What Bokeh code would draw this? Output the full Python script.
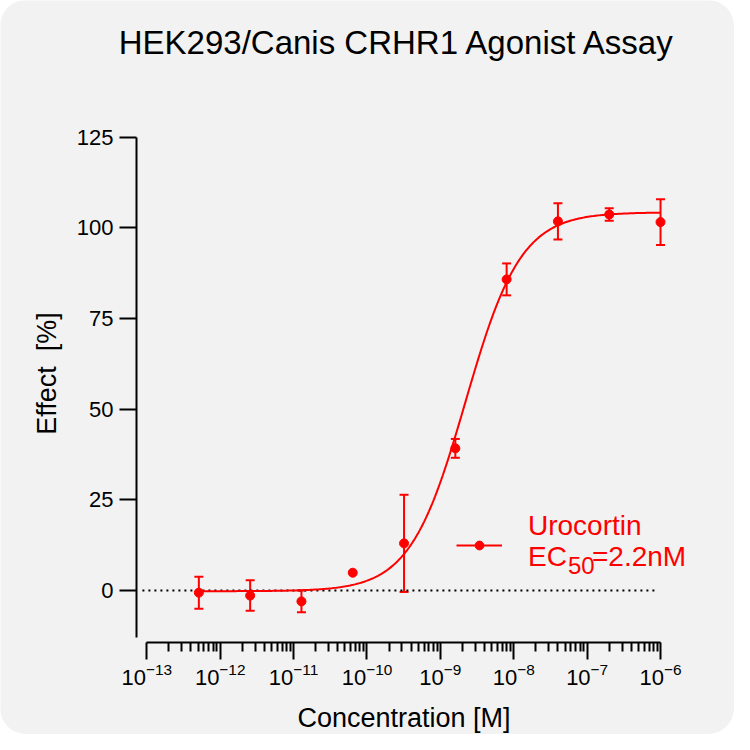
import math

import numpy as np
from bokeh.embed import file_html
from bokeh.models import (ColumnDataSource, FixedTicker, Label, Legend,
                          LegendItem, TeeHead, Whisker)
from bokeh.plotting import figure
from bokeh.resources import INLINE

TITLE = "HEK293/Canis CRHR1 Agonist Assay"
X_LABEL = "Concentration [M]"
Y_LABEL = "Effect \u00a0[%]"
SERIES = "Urocortin"
EC50_TEXT = "=2.2nM"

# 5-fold dilution series, top concentration 1 uM
conc = [5.12e-13, 2.56e-12, 1.28e-11, 6.4e-11, 3.2e-10,
        1.6e-9, 8e-9, 4e-8, 2e-7, 1e-6]
effect = [-0.6, -1.4, -3.0, 4.9, 13.0, 39.2, 85.8, 101.8, 103.7, 101.6]
sem = [4.4, 4.2, 3.0, 0.0, 13.4, 2.6, 4.4, 5.0, 1.7, 6.3]

# four-parameter logistic fit
FIT_BOTTOM = -0.2
FIT_TOP = 104.3
FIT_EC50 = 2.2e-9
FIT_HILL = 1.15

x_ticks = [1e-13, 1e-12, 1e-11, 1e-10, 1e-9, 1e-8, 1e-7, 1e-6]
y_ticks = [0, 25, 50, 75, 100, 125]
baseline_x = [10 ** -13.06, 10 ** -6.04]

RED = "#ff0000"
BG = "#f2f2f2"
FONT = "Liberation Sans"

# the frame fills the whole figure; axes are pinned inside it
W = H = 734
DECADE_PX = 73.39          # pixels per decade
UNIT_PX = 3.626            # pixels per percent
X13_PX, ZERO_PX = 146.3, 590   # where 1e-13 and 0 % sit
AXIS_X_PX, AXIS_Y_PX = 136, 642
BASELINE_SHIFT = 0.39      # labels land this many em below the anchor


def px_x(px):
    return 10 ** (-13 + (px - X13_PX) / DECADE_PX)


def px_y(py):
    return (ZERO_PX - py) / UNIT_PX


p = figure(
    width=W, height=H,
    x_axis_type="log",
    x_range=(px_x(0), px_x(W)),
    y_range=(px_y(H), px_y(0)),
    output_backend="svg",
    toolbar_location=None,
    min_border=0,
    background_fill_color=BG,
    border_fill_color=BG,
)
p.outline_line_color = None
p.grid.visible = False
p.styles = {"border-radius": "26px", "overflow": "hidden"}

minor = [m * t for t in x_ticks[:-1] for m in range(2, 10)]
p.xaxis.ticker = FixedTicker(ticks=x_ticks, minor_ticks=minor)
p.xaxis.bounds = (x_ticks[0], x_ticks[-1])
p.xaxis.fixed_location = px_y(AXIS_Y_PX)
p.yaxis.ticker = FixedTicker(ticks=y_ticks, minor_ticks=[])
p.yaxis.bounds = (-13, 125)
p.yaxis.fixed_location = px_x(AXIS_X_PX)

for ax in (p.xaxis, p.yaxis):
    ax.axis_line_width = 2
    ax.axis_line_color = "black"
    ax.major_tick_line_width = 2
    ax.major_tick_line_color = "black"
    ax.major_tick_in = 0
    ax.major_tick_out = 17
    ax.minor_tick_line_width = 2
    ax.minor_tick_line_color = "black"
    ax.minor_tick_in = 0
    ax.minor_tick_out = 9
    ax.major_label_text_font = FONT
    ax.major_label_text_font_size = "22px"
    ax.major_label_text_color = "black"
p.xaxis.major_label_standoff = 3
p.yaxis.major_label_standoff = 6
p.yaxis.minor_tick_line_color = None

# dotted zero line
p.line(baseline_x, [0, 0], line_color="black", line_width=2, line_dash="2 4")

# fitted curve
xs = np.logspace(math.log10(conc[0]), math.log10(conc[-1]), 300)
ys = FIT_BOTTOM + (FIT_TOP - FIT_BOTTOM) / (1 + (FIT_EC50 / xs) ** FIT_HILL)
curve = p.line(xs, ys, line_color=RED, line_width=2)

# error bars (none where the SEM is hidden by the marker)
err = ColumnDataSource(data=dict(
    x=[c for c, s in zip(conc, sem) if s > 0],
    upper=[e + s for e, s in zip(effect, sem) if s > 0],
    lower=[e - s for e, s in zip(effect, sem) if s > 0],
))
head = dict(size=9, line_color=RED, line_width=2)
p.add_layout(Whisker(source=err, base="x", upper="upper", lower="lower",
                     dimension="height", line_color=RED, line_width=2,
                     upper_head=TeeHead(**head), lower_head=TeeHead(**head)))

dots = p.scatter(conc, effect, marker="circle", size=9,
                 fill_color=RED, line_color=RED)

legend = Legend(
    items=[LegendItem(label=" ", renderers=[curve, dots])],
    location=(456, H - 556),
    glyph_width=46, glyph_height=22, padding=0, margin=0,
    label_standoff=0, label_width=0, label_height=0,
    border_line_color=None, background_fill_alpha=0,
)
p.add_layout(legend)


def text(px, py, s, size, color="black", align="left", angle=0):
    # (px, py) is where the baseline should sit
    shift = BASELINE_SHIFT * size
    if angle:
        px -= shift
    else:
        py -= shift
    p.add_layout(Label(x=px_x(px), y=px_y(py), text=s, text_font=FONT,
                       text_font_size=f"{size}px", text_color=color,
                       text_align=align, text_baseline="alphabetic",
                       angle=angle))


text(397, 55, TITLE, 33, align="center")
text(403.5, 728, X_LABEL, 27, align="center")
text(56.7, 373, Y_LABEL, 27, align="center", angle=math.pi / 2)
text(527.5, 536, SERIES, 28, color=RED)
text(527.5, 566.7, "EC", 28, color=RED)
text(567.5, 574, "50", 24, color=RED)
text(591.5, 566.7, EC50_TEXT, 28, color=RED)

open("out.html", "w").write(file_html(p, INLINE))
